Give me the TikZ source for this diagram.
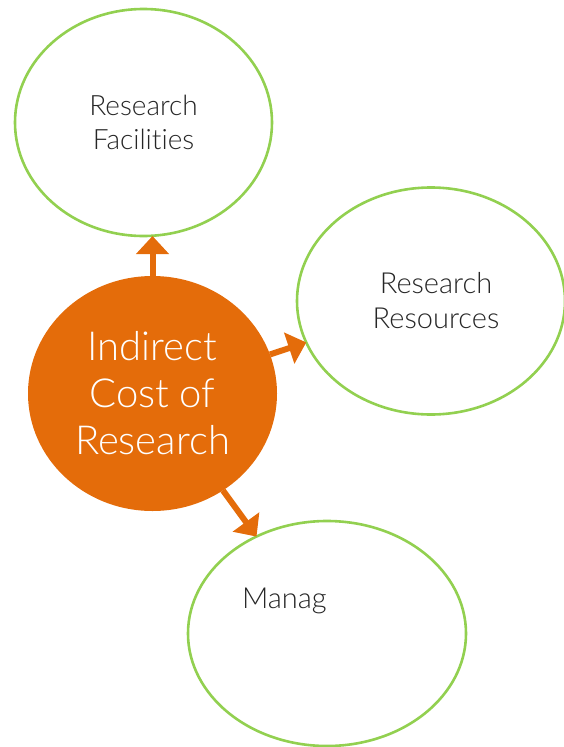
\documentclass[tikz,border=0pt]{standalone}
\usepackage{fontspec}
\setmainfont{Lato}[UprightFont=* Light, Ligatures={NoCommon}, RawFeature={-liga;-dlig}]
\usepackage{xcolor}
\usepackage{tikz}
\usetikzlibrary{arrows.meta,positioning,shapes.geometric}
\definecolor{huborange}{HTML}{E46C0A}
\definecolor{leafgreen}{HTML}{92D050}

\begin{document}
\begin{tikzpicture}[
      x=1pt, y=-1pt,
      every node/.style = {inner sep=0pt, outer sep=0pt},
      leaf/.style  = {ellipse, draw=leafgreen, line width=2.6pt, fill=white,
                      align=center, text=black!85},
      hub/.style   = {ellipse, fill=huborange, text=white, align=center,
                      minimum width=249pt, minimum height=235pt,
                      font=\fontsize{40}{47}\selectfont},
      arrow/.style = {-{Triangle[length=18pt,width=32pt]}, line width=6pt,
                      draw=huborange}
    ]
    \useasboundingbox (0,0) rectangle (564,747);

    \node[hub] (icr) at (152.5,393.5) {Indirect\\Cost of\\Research};
    \node[leaf, minimum width=257pt, minimum height=227pt,
          font=\fontsize{28}{34.5}\selectfont]
          (rf) [above=40pt of icr, xshift=-9pt] {Research\\Facilities};
    \node[leaf, minimum width=268pt, minimum height=227pt,
          font=\fontsize{29}{35}\selectfont]
          (rr) [right=20pt of icr, yshift=92.5pt] {\hspace*{10pt}Research\\\hspace*{10pt}Resources};
    \node[leaf, minimum width=278pt, minimum height=225pt]
          (mg) [below=10pt of icr, xshift=174.5pt] {};
    \node (mgtxt) [anchor=base west, xshift=-85pt, yshift=25.5pt,
                   font=\fontsize{29}{34}\selectfont, text=black!85]
          at (mg.center) {Manag};

    \draw[arrow] (icr.north) -- (icr.north |- rf.south);
    \draw[arrow] (icr) -- (rr);
    \draw[arrow] (icr) -- (mg);
  \end{tikzpicture}
\end{document}
